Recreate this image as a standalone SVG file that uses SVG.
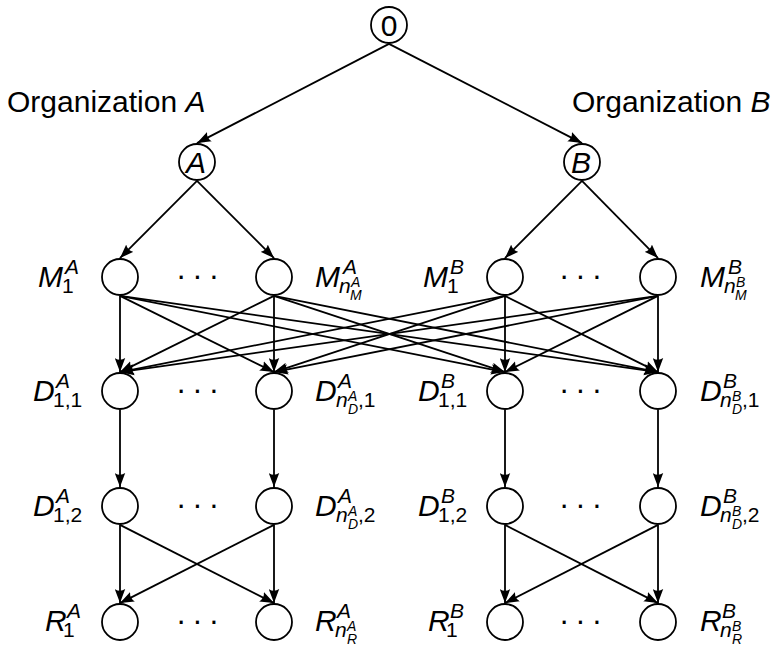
<svg xmlns="http://www.w3.org/2000/svg" width="775" height="646" viewBox="0 0 775 646">
<defs>
<marker id="arr" markerUnits="userSpaceOnUse" viewBox="0 0 15 11" markerWidth="15" markerHeight="11" refX="14" refY="5.5" orient="auto">
<path d="M14,5.5 L0,0.3 Q3.5,5.5 0,10.7 Z" fill="#000"/>
</marker>
<style>
.n{fill:#fff;stroke:#000;stroke-width:1.8}
.e{stroke:#000;stroke-width:1.8;fill:none;marker-end:url(#arr)}
text{font-family:"Liberation Sans",Arial,sans-serif;fill:#000}
.L{font-size:30px;font-style:italic}
.U{font-size:30px}
.s{font-size:21px}
.ss{font-size:14px}
.i{font-style:italic}
.dots{font-size:31px;letter-spacing:6px}
</style>
</defs>
<rect width="775" height="646" fill="#fff"/>
<g id="titles">
<text x="7" y="112" class="U">Organization <tspan class="i">A</tspan></text>
<text x="572" y="112" class="U">Organization <tspan class="i">B</tspan></text>
</g>
<g id="connectors">
<line class="e" x1="389" y1="43.9" x2="197" y2="143.1"/>
<line class="e" x1="389" y1="43.9" x2="582" y2="143.1"/>
<line class="e" x1="197" y1="180.9" x2="120" y2="258.1"/>
<line class="e" x1="197" y1="180.9" x2="274" y2="258.1"/>
<line class="e" x1="582" y1="180.9" x2="505" y2="258.1"/>
<line class="e" x1="582" y1="180.9" x2="658" y2="258.1"/>
<line class="e" x1="120" y1="295.9" x2="120" y2="372.1"/>
<line class="e" x1="120" y1="295.9" x2="274" y2="372.1"/>
<line class="e" x1="120" y1="295.9" x2="505" y2="372.1"/>
<line class="e" x1="120" y1="295.9" x2="658" y2="372.1"/>
<line class="e" x1="274" y1="295.9" x2="120" y2="372.1"/>
<line class="e" x1="274" y1="295.9" x2="274" y2="372.1"/>
<line class="e" x1="274" y1="295.9" x2="505" y2="372.1"/>
<line class="e" x1="274" y1="295.9" x2="658" y2="372.1"/>
<line class="e" x1="505" y1="295.9" x2="120" y2="372.1"/>
<line class="e" x1="505" y1="295.9" x2="274" y2="372.1"/>
<line class="e" x1="505" y1="295.9" x2="505" y2="372.1"/>
<line class="e" x1="505" y1="295.9" x2="658" y2="372.1"/>
<line class="e" x1="658" y1="295.9" x2="120" y2="372.1"/>
<line class="e" x1="658" y1="295.9" x2="274" y2="372.1"/>
<line class="e" x1="658" y1="295.9" x2="505" y2="372.1"/>
<line class="e" x1="658" y1="295.9" x2="658" y2="372.1"/>
<line class="e" x1="120" y1="409.9" x2="120" y2="487.1"/>
<line class="e" x1="274" y1="409.9" x2="274" y2="487.1"/>
<line class="e" x1="505" y1="409.9" x2="505" y2="487.1"/>
<line class="e" x1="658" y1="409.9" x2="658" y2="487.1"/>
<line class="e" x1="120" y1="524.9" x2="120" y2="603.1"/>
<line class="e" x1="120" y1="524.9" x2="274" y2="603.1"/>
<line class="e" x1="274" y1="524.9" x2="120" y2="603.1"/>
<line class="e" x1="274" y1="524.9" x2="274" y2="603.1"/>
<line class="e" x1="505" y1="524.9" x2="505" y2="603.1"/>
<line class="e" x1="505" y1="524.9" x2="658" y2="603.1"/>
<line class="e" x1="658" y1="524.9" x2="505" y2="603.1"/>
<line class="e" x1="658" y1="524.9" x2="658" y2="603.1"/>
</g>
<g id="root"><circle class="n" cx="389" cy="25" r="18"/><text class="U" x="389" y="36" text-anchor="middle">0</text></g>
<g id="orgA"><circle class="n" cx="197" cy="162" r="18"/><text class="L" x="196" y="173" text-anchor="middle">A</text></g>
<g id="orgB"><circle class="n" cx="582" cy="162" r="18"/><text class="L" x="581" y="173" text-anchor="middle">B</text></g>

<g id="M1A"><circle class="n" cx="120" cy="277" r="18"/><text><tspan class="L" x="38" y="287">M</tspan><tspan class="s i" x="65" y="274">A</tspan><tspan class="s" x="62" y="293">1</tspan></text></g>
<g id="MnA"><circle class="n" cx="274" cy="277" r="18"/><text><tspan class="L" x="315" y="287">M</tspan><tspan class="s i" x="343" y="274">A</tspan><tspan class="s i" x="339" y="293">n</tspan><tspan class="ss i" x="351" y="287">A</tspan><tspan class="ss i" x="350" y="300">M</tspan></text></g>
<g id="M1B"><circle class="n" cx="505" cy="277" r="18"/><text><tspan class="L" x="423" y="287">M</tspan><tspan class="s i" x="450" y="274">B</tspan><tspan class="s" x="447" y="293">1</tspan></text></g>
<g id="MnB"><circle class="n" cx="658" cy="277" r="18"/><text><tspan class="L" x="700" y="287">M</tspan><tspan class="s i" x="728" y="274">B</tspan><tspan class="s i" x="724" y="293">n</tspan><tspan class="ss i" x="736" y="287">B</tspan><tspan class="ss i" x="735" y="300">M</tspan></text></g>

<g id="D11A"><circle class="n" cx="120" cy="391" r="18"/><text><tspan class="L" x="33" y="401">D</tspan><tspan class="s i" x="56" y="388">A</tspan><tspan class="s" x="53" y="407">1,1</tspan></text></g>
<g id="Dn1A"><circle class="n" cx="274" cy="391" r="18"/><text><tspan class="L" x="315" y="401">D</tspan><tspan class="s i" x="338" y="388">A</tspan><tspan class="s i" x="336" y="407">n</tspan><tspan class="ss i" x="348" y="401">A</tspan><tspan class="ss i" x="348" y="414">D</tspan><tspan class="s" x="358" y="407">,1</tspan></text></g>
<g id="D11B"><circle class="n" cx="505" cy="391" r="18"/><text><tspan class="L" x="418" y="401">D</tspan><tspan class="s i" x="441" y="388">B</tspan><tspan class="s" x="438" y="407">1,1</tspan></text></g>
<g id="Dn1B"><circle class="n" cx="658" cy="391" r="18"/><text><tspan class="L" x="700" y="401">D</tspan><tspan class="s i" x="723" y="388">B</tspan><tspan class="s i" x="720" y="407">n</tspan><tspan class="ss i" x="732" y="401">B</tspan><tspan class="ss i" x="732" y="414">D</tspan><tspan class="s" x="742" y="407">,1</tspan></text></g>

<g id="D12A"><circle class="n" cx="120" cy="506" r="18"/><text><tspan class="L" x="33" y="516">D</tspan><tspan class="s i" x="56" y="503">A</tspan><tspan class="s" x="53" y="522">1,2</tspan></text></g>
<g id="Dn2A"><circle class="n" cx="274" cy="506" r="18"/><text><tspan class="L" x="315" y="516">D</tspan><tspan class="s i" x="338" y="503">A</tspan><tspan class="s i" x="336" y="522">n</tspan><tspan class="ss i" x="348" y="516">A</tspan><tspan class="ss i" x="348" y="529">D</tspan><tspan class="s" x="358" y="522">,2</tspan></text></g>
<g id="D12B"><circle class="n" cx="505" cy="506" r="18"/><text><tspan class="L" x="418" y="516">D</tspan><tspan class="s i" x="441" y="503">B</tspan><tspan class="s" x="438" y="522">1,2</tspan></text></g>
<g id="Dn2B"><circle class="n" cx="658" cy="506" r="18"/><text><tspan class="L" x="700" y="516">D</tspan><tspan class="s i" x="723" y="503">B</tspan><tspan class="s i" x="720" y="522">n</tspan><tspan class="ss i" x="732" y="516">B</tspan><tspan class="ss i" x="732" y="529">D</tspan><tspan class="s" x="742" y="522">,2</tspan></text></g>

<g id="R1A"><circle class="n" cx="120" cy="622" r="18"/><text><tspan class="L" x="45" y="631">R</tspan><tspan class="s i" x="67" y="618">A</tspan><tspan class="s" x="63" y="637">1</tspan></text></g>
<g id="RnA"><circle class="n" cx="274" cy="622" r="18"/><text><tspan class="L" x="315" y="631">R</tspan><tspan class="s i" x="337" y="618">A</tspan><tspan class="s i" x="335" y="637">n</tspan><tspan class="ss i" x="347" y="631">A</tspan><tspan class="ss i" x="347" y="644">R</tspan></text></g>
<g id="R1B"><circle class="n" cx="505" cy="622" r="18"/><text><tspan class="L" x="428" y="631">R</tspan><tspan class="s i" x="450" y="618">B</tspan><tspan class="s" x="446" y="637">1</tspan></text></g>
<g id="RnB"><circle class="n" cx="658" cy="622" r="18"/><text><tspan class="L" x="700" y="631">R</tspan><tspan class="s i" x="722" y="618">B</tspan><tspan class="s i" x="720" y="637">n</tspan><tspan class="ss i" x="732" y="631">B</tspan><tspan class="ss i" x="732" y="644">R</tspan></text></g>

<g id="ellipses">
<text class="dots" x="176" y="286">···</text>
<text class="dots" x="559" y="286">···</text>
<text class="dots" x="176" y="400">···</text>
<text class="dots" x="559" y="400">···</text>
<text class="dots" x="176" y="515">···</text>
<text class="dots" x="559" y="515">···</text>
<text class="dots" x="176" y="631">···</text>
<text class="dots" x="559" y="631">···</text>
</g>
</svg>
